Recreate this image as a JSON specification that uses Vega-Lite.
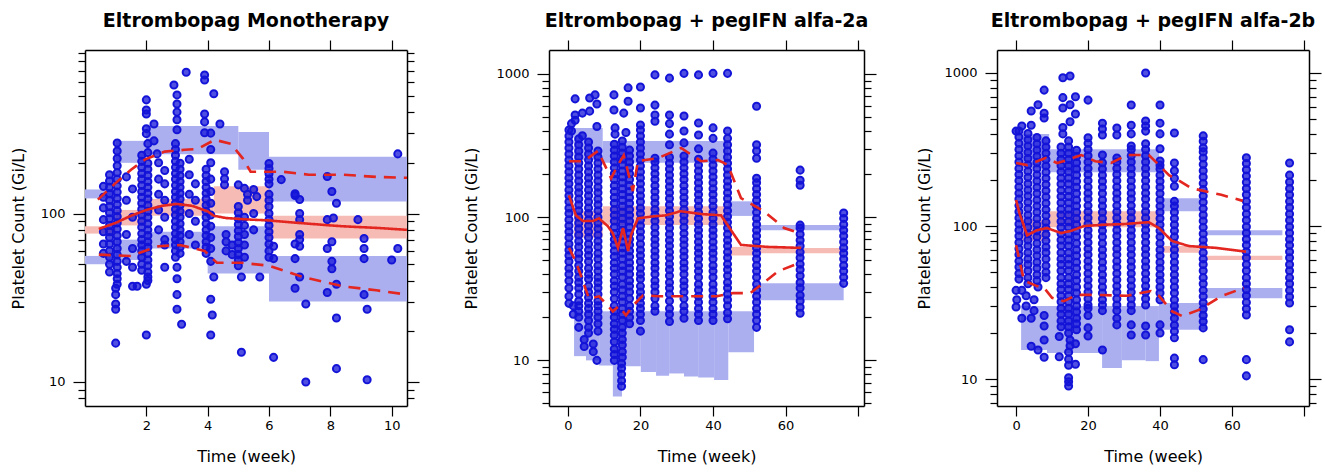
{
"$schema":"https://vega.github.io/schema/vega-lite/v6.json",
"background":"white",
"padding":{"left":10,"top":12,"right":5,"bottom":5},
"spacing":39,
"config":{"view":{"stroke":null},
"axis":{"domainColor":"black","domainWidth":1.5,"tickColor":"black","tickWidth":1.2,"labelColor":"black","labelFont":"DejaVu Sans","labelFontSize":13,"titleFont":"DejaVu Sans","titleFontSize":16,"titleFontWeight":"normal","titleColor":"black","grid":false,"labelFlush":false,"labelOverlap":false,"zindex":1},
"title":{"font":"DejaVu Sans","fontSize":19,"fontWeight":"bold","color":"black","offset":8}},
"datasets":{
"b1":[{"t0":0,"t1":1,"lo":123,"hi":139,"k":"hi"},{"t0":1,"t1":2,"lo":200,"hi":270,"k":"hi"},{"t0":2,"t1":5,"lo":225,"hi":331,"k":"hi"},{"t0":5,"t1":6,"lo":182,"hi":305,"k":"hi"},{"t0":6,"t1":10.5,"lo":118,"hi":217,"k":"hi"},
{"t0":0,"t1":1,"lo":76,"hi":84,"k":"med"},{"t0":1,"t1":2,"lo":85,"hi":105,"k":"med"},{"t0":2,"t1":4.2,"lo":97,"hi":122,"k":"med"},{"t0":4.2,"t1":6,"lo":100,"hi":145,"k":"med"},{"t0":6,"t1":10.5,"lo":71,"hi":97,"k":"med"},
{"t0":0,"t1":1,"lo":50,"hi":56,"k":"lo"},{"t0":1,"t1":2,"lo":53,"hi":70,"k":"lo"},{"t0":2,"t1":4,"lo":62,"hi":78,"k":"lo"},{"t0":4,"t1":6,"lo":44,"hi":84,"k":"lo"},{"t0":6,"t1":10.5,"lo":30,"hi":56,"k":"lo"}],
"b2":[{"t0":1.7,"t1":9.6,"lo":250,"hi":420,"k":"hi"},{"t0":9.6,"t1":44.2,"lo":240,"hi":340,"k":"hi"},{"t0":44.2,"t1":51.3,"lo":102,"hi":129,"k":"hi"},{"t0":52.8,"t1":76,"lo":81,"hi":88,"k":"hi"},
{"t0":1.7,"t1":9.6,"lo":72,"hi":110,"k":"med"},{"t0":9.6,"t1":44.2,"lo":88,"hi":119,"k":"med"},{"t0":44.2,"t1":51.3,"lo":54,"hi":62,"k":"med"},{"t0":52.8,"t1":76,"lo":56,"hi":61,"k":"med"},
{"t0":1.7,"t1":5,"lo":10.7,"hi":22,"k":"lo"},{"t0":5,"t1":8.6,"lo":10,"hi":22,"k":"lo"},{"t0":8.6,"t1":12.4,"lo":9.2,"hi":22,"k":"lo"},{"t0":12.4,"t1":14.9,"lo":5.6,"hi":22,"k":"lo"},{"t0":14.9,"t1":20.1,"lo":9.1,"hi":22,"k":"lo"},{"t0":20.1,"t1":24.3,"lo":8.3,"hi":22,"k":"lo"},{"t0":24.3,"t1":27.9,"lo":7.8,"hi":22,"k":"lo"},{"t0":27.9,"t1":32,"lo":8.1,"hi":22,"k":"lo"},{"t0":32,"t1":35.9,"lo":7.7,"hi":22,"k":"lo"},{"t0":35.9,"t1":40.3,"lo":7.6,"hi":22,"k":"lo"},{"t0":40.3,"t1":44.2,"lo":7.3,"hi":22,"k":"lo"},{"t0":44.2,"t1":51.3,"lo":11.4,"hi":22,"k":"lo"},{"t0":52.8,"t1":76,"lo":26.3,"hi":34.5,"k":"lo"}],
"b3":[{"t0":1.4,"t1":9.2,"lo":240,"hi":400,"k":"hi"},{"t0":9.2,"t1":39.7,"lo":225,"hi":318,"k":"hi"},{"t0":40.5,"t1":51,"lo":125,"hi":152,"k":"hi"},{"t0":53,"t1":74,"lo":87,"hi":94,"k":"hi"},
{"t0":1.4,"t1":9.2,"lo":80,"hi":110,"k":"med"},{"t0":9.2,"t1":39.7,"lo":98,"hi":125,"k":"med"},{"t0":40.5,"t1":51,"lo":67,"hi":74,"k":"med"},{"t0":53,"t1":74,"lo":60,"hi":64,"k":"med"},
{"t0":1.4,"t1":8.6,"lo":15.5,"hi":30,"k":"lo"},{"t0":8.6,"t1":23.9,"lo":14.8,"hi":30,"k":"lo"},{"t0":23.9,"t1":29.4,"lo":11.8,"hi":30,"k":"lo"},{"t0":29.4,"t1":36,"lo":13.3,"hi":30,"k":"lo"},{"t0":36,"t1":39.7,"lo":13.1,"hi":30,"k":"lo"},{"t0":39.7,"t1":52.8,"lo":21,"hi":31.4,"k":"lo"},{"t0":53,"t1":74,"lo":33.8,"hi":39.4,"k":"lo"}],
"l1":[{"q":"med","t":0.45,"v":81},{"q":"med","t":1,"v":88},{"q":"med","t":1.5,"v":97},{"q":"med","t":2,"v":105},{"q":"med","t":2.5,"v":111},{"q":"med","t":3,"v":114},{"q":"med","t":3.5,"v":111},{"q":"med","t":4,"v":103},{"q":"med","t":4.2,"v":97},{"q":"med","t":4.6,"v":94},{"q":"med","t":5,"v":93},{"q":"med","t":5.4,"v":92},{"q":"med","t":6,"v":91},{"q":"med","t":6.6,"v":89},{"q":"med","t":7.3,"v":87},{"q":"med","t":8,"v":85},{"q":"med","t":8.4,"v":84},{"q":"med","t":9,"v":83},{"q":"med","t":9.6,"v":82},{"q":"med","t":10.5,"v":80},
{"q":"p95","t":0.42,"v":121},{"q":"p95","t":0.97,"v":150},{"q":"p95","t":1.5,"v":182},{"q":"p95","t":1.95,"v":209},{"q":"p95","t":2.6,"v":233},{"q":"p95","t":3.25,"v":239},{"q":"p95","t":3.68,"v":242},{"q":"p95","t":4.23,"v":274},{"q":"p95","t":4.76,"v":259},{"q":"p95","t":5.15,"v":212},{"q":"p95","t":5.4,"v":177},{"q":"p95","t":6.45,"v":177},{"q":"p95","t":7.3,"v":170},{"q":"p95","t":8.4,"v":170},{"q":"p95","t":9.5,"v":165},{"q":"p95","t":10.5,"v":163},
{"q":"p5","t":0.45,"v":57},{"q":"p5","t":1.5,"v":56},{"q":"p5","t":2.4,"v":64},{"q":"p5","t":3.1,"v":65},{"q":"p5","t":3.9,"v":60},{"q":"p5","t":4.3,"v":51},{"q":"p5","t":5.1,"v":51},{"q":"p5","t":6,"v":49},{"q":"p5","t":7.1,"v":42},{"q":"p5","t":8.4,"v":37},{"q":"p5","t":9.5,"v":35},{"q":"p5","t":10.5,"v":33}],
"l2":[{"q":"med","t":0.3,"v":142},{"q":"med","t":2.2,"v":103},{"q":"med","t":4.1,"v":94},{"q":"med","t":6.9,"v":94},{"q":"med","t":8.6,"v":98},{"q":"med","t":11,"v":86.5},{"q":"med","t":12.4,"v":77},{"q":"med","t":13.8,"v":61},{"q":"med","t":15.2,"v":84},{"q":"med","t":16.6,"v":58},{"q":"med","t":17.4,"v":75},{"q":"med","t":19.3,"v":98},{"q":"med","t":23,"v":101},{"q":"med","t":27,"v":103},{"q":"med","t":31,"v":110},{"q":"med","t":37,"v":105},{"q":"med","t":42.2,"v":103},{"q":"med","t":47.7,"v":64},{"q":"med","t":55,"v":62},{"q":"med","t":64.3,"v":61},
{"q":"p95","t":0.3,"v":246},{"q":"p95","t":4.4,"v":246},{"q":"p95","t":8.3,"v":290},{"q":"p95","t":11.9,"v":187},{"q":"p95","t":13.8,"v":231},{"q":"p95","t":15.4,"v":270},{"q":"p95","t":17.9,"v":152},{"q":"p95","t":19.3,"v":246},{"q":"p95","t":24.8,"v":258},{"q":"p95","t":31.2,"v":304},{"q":"p95","t":36.7,"v":246},{"q":"p95","t":41.4,"v":250},{"q":"p95","t":44.1,"v":231},{"q":"p95","t":47.7,"v":136},{"q":"p95","t":54,"v":110},{"q":"p95","t":59.6,"v":84},{"q":"p95","t":64,"v":77},
{"q":"p5","t":0.3,"v":61},{"q":"p5","t":2.2,"v":49},{"q":"p5","t":4.1,"v":36},{"q":"p5","t":5.8,"v":27},{"q":"p5","t":8.6,"v":28},{"q":"p5","t":12.4,"v":22},{"q":"p5","t":14.1,"v":24},{"q":"p5","t":16,"v":20.6},{"q":"p5","t":17.9,"v":24},{"q":"p5","t":20.7,"v":28.5},{"q":"p5","t":25,"v":28},{"q":"p5","t":30,"v":28},{"q":"p5","t":36,"v":28},{"q":"p5","t":41,"v":28},{"q":"p5","t":45.5,"v":29.5},{"q":"p5","t":50.3,"v":29.5},{"q":"p5","t":53.1,"v":33.5},{"q":"p5","t":58,"v":42},{"q":"p5","t":64,"v":48}],
"l3":[{"q":"med","t":0,"v":148},{"q":"med","t":1,"v":120},{"q":"med","t":3.1,"v":87},{"q":"med","t":5.8,"v":94},{"q":"med","t":8.6,"v":97},{"q":"med","t":12.5,"v":90},{"q":"med","t":15.3,"v":93},{"q":"med","t":18.9,"v":100},{"q":"med","t":24.4,"v":102},{"q":"med","t":30,"v":103},{"q":"med","t":36.9,"v":106},{"q":"med","t":39.7,"v":97},{"q":"med","t":43.3,"v":80},{"q":"med","t":48,"v":74},{"q":"med","t":55.5,"v":72},{"q":"med","t":63.9,"v":68},
{"q":"p95","t":0,"v":258},{"q":"p95","t":3.1,"v":250},{"q":"p95","t":8.3,"v":279},{"q":"p95","t":11.4,"v":258},{"q":"p95","t":14.2,"v":270},{"q":"p95","t":18.1,"v":291},{"q":"p95","t":22,"v":265},{"q":"p95","t":26.4,"v":258},{"q":"p95","t":30.8,"v":291},{"q":"p95","t":36.9,"v":291},{"q":"p95","t":42.5,"v":215},{"q":"p95","t":45,"v":200},{"q":"p95","t":48.6,"v":177},{"q":"p95","t":57,"v":160},{"q":"p95","t":63,"v":146},
{"q":"p5","t":0,"v":75},{"q":"p5","t":2.2,"v":44},{"q":"p5","t":5.8,"v":40.5},{"q":"p5","t":7.8,"v":39.4},{"q":"p5","t":10,"v":34},{"q":"p5","t":13.3,"v":32.3},{"q":"p5","t":16.9,"v":35.5},{"q":"p5","t":22,"v":35.5},{"q":"p5","t":30.8,"v":35},{"q":"p5","t":37.5,"v":37.6},{"q":"p5","t":39.7,"v":35},{"q":"p5","t":43.3,"v":27.8},{"q":"p5","t":46.1,"v":25.8},{"q":"p5","t":50.8,"v":28.3},{"q":"p5","t":57.2,"v":35},{"q":"p5","t":63.3,"v":39.4}],
"p1":[{"t":0.6,"v":58},{"t":0.6,"v":66},{"t":0.6,"v":78},{"t":0.6,"v":92},{"t":0.6,"v":108},{"t":0.6,"v":125},{"t":0.6,"v":145},
{"t":0.8,"v":45},{"t":0.8,"v":50},{"t":0.8,"v":55},{"t":0.8,"v":60},{"t":0.8,"v":66},{"t":0.8,"v":72},{"t":0.8,"v":78},{"t":0.8,"v":85},{"t":0.8,"v":93},{"t":0.8,"v":101},{"t":0.8,"v":110},{"t":0.8,"v":120},{"t":0.8,"v":131},{"t":0.8,"v":143},{"t":0.8,"v":156},{"t":0.8,"v":170},
{"t":1.05,"v":38},{"t":1.05,"v":41},{"t":1.05,"v":44},{"t":1.05,"v":48},{"t":1.05,"v":52},{"t":1.05,"v":57},{"t":1.05,"v":62},{"t":1.05,"v":68},{"t":1.05,"v":74},{"t":1.05,"v":81},{"t":1.05,"v":88},{"t":1.05,"v":96},{"t":1.05,"v":104},{"t":1.05,"v":113},{"t":1.05,"v":123},{"t":1.05,"v":134},{"t":1.05,"v":146},{"t":1.05,"v":160},{"t":1.05,"v":175},{"t":1.05,"v":192},{"t":1.05,"v":212},{"t":1.05,"v":235},{"t":1.05,"v":262},
{"t":1.0,"v":36},{"t":1.0,"v":33},{"t":1.0,"v":29},{"t":1.0,"v":27},{"t":1.0,"v":17},
{"t":1.35,"v":52},{"t":1.35,"v":75},{"t":1.35,"v":120},{"t":1.35,"v":165},
{"t":1.55,"v":37},{"t":1.55,"v":48},{"t":1.55,"v":62},{"t":1.55,"v":95},{"t":1.55,"v":140},{"t":1.7,"v":37},
{"t":1.85,"v":46},{"t":1.85,"v":50},{"t":1.85,"v":55},{"t":1.85,"v":60},{"t":1.85,"v":65},{"t":1.85,"v":70},{"t":1.85,"v":76},{"t":1.85,"v":83},{"t":1.85,"v":90},{"t":1.85,"v":98},{"t":1.85,"v":106},{"t":1.85,"v":115},{"t":1.85,"v":125},{"t":1.85,"v":135},{"t":1.85,"v":147},{"t":1.85,"v":160},{"t":1.85,"v":173},{"t":1.85,"v":188},{"t":1.85,"v":204},{"t":1.85,"v":222},
{"t":2.05,"v":40},{"t":2.05,"v":42},{"t":2.05,"v":45},{"t":2.05,"v":49},{"t":2.05,"v":53},{"t":2.05,"v":58},{"t":2.05,"v":63},{"t":2.05,"v":68},{"t":2.05,"v":74},{"t":2.05,"v":80},{"t":2.05,"v":87},{"t":2.05,"v":95},{"t":2.05,"v":103},{"t":2.05,"v":112},{"t":2.05,"v":122},{"t":2.05,"v":132},{"t":2.05,"v":143},{"t":2.05,"v":155},{"t":2.05,"v":168},{"t":2.05,"v":183},{"t":2.05,"v":199},{"t":2.05,"v":230},{"t":2.05,"v":260},
{"t":2.0,"v":473},{"t":2.0,"v":412},{"t":2.0,"v":390},{"t":2.0,"v":319},{"t":2.0,"v":298},{"t":2.0,"v":38},{"t":2.0,"v":19},{"t":2.25,"v":340},{"t":2.25,"v":270},{"t":2.35,"v":226},
{"t":2.4,"v":80},{"t":2.4,"v":105},{"t":2.4,"v":130},{"t":2.4,"v":160},{"t":2.4,"v":200},
{"t":2.6,"v":48},{"t":2.6,"v":65},{"t":2.6,"v":70},{"t":2.6,"v":95},{"t":2.6,"v":120},{"t":2.6,"v":150},{"t":2.6,"v":180},
{"t":2.95,"v":55},{"t":2.95,"v":60},{"t":2.95,"v":65},{"t":2.95,"v":70},{"t":2.95,"v":76},{"t":2.95,"v":83},{"t":2.95,"v":90},{"t":2.95,"v":98},{"t":2.95,"v":106},{"t":2.95,"v":115},{"t":2.95,"v":125},{"t":2.95,"v":135},{"t":2.95,"v":147},{"t":2.95,"v":160},{"t":2.95,"v":173},{"t":2.95,"v":188},{"t":2.95,"v":204},{"t":2.95,"v":222},{"t":2.95,"v":240},{"t":2.95,"v":260},
{"t":3.1,"v":58},{"t":3.1,"v":63},{"t":3.1,"v":68},{"t":3.1,"v":74},{"t":3.1,"v":80},{"t":3.1,"v":87},{"t":3.1,"v":95},{"t":3.1,"v":103},{"t":3.1,"v":112},{"t":3.1,"v":122},{"t":3.1,"v":132},{"t":3.1,"v":143},{"t":3.1,"v":155},{"t":3.1,"v":168},{"t":3.1,"v":183},{"t":3.1,"v":199},
{"t":2.9,"v":580},{"t":3.0,"v":506},{"t":3.0,"v":447},{"t":3.0,"v":400},{"t":3.0,"v":360},{"t":3.0,"v":314},{"t":3.0,"v":48},{"t":3.0,"v":41},{"t":3.0,"v":33},{"t":3.0,"v":27},{"t":3.15,"v":22},{"t":3.3,"v":690},
{"t":3.4,"v":75},{"t":3.4,"v":100},{"t":3.4,"v":130},{"t":3.4,"v":170},{"t":3.4,"v":210},{"t":3.6,"v":65},{"t":3.6,"v":90},{"t":3.6,"v":120},{"t":3.6,"v":150},
{"t":3.95,"v":58},{"t":3.95,"v":63},{"t":3.95,"v":68},{"t":3.95,"v":74},{"t":3.95,"v":80},{"t":3.95,"v":87},{"t":3.95,"v":95},{"t":3.95,"v":103},{"t":3.95,"v":112},{"t":3.95,"v":122},{"t":3.95,"v":132},{"t":3.95,"v":143},{"t":3.95,"v":155},{"t":3.95,"v":168},{"t":3.95,"v":183},
{"t":4.1,"v":52},{"t":4.1,"v":62},{"t":4.1,"v":72},{"t":4.1,"v":84},{"t":4.1,"v":98},{"t":4.1,"v":115},{"t":4.1,"v":135},{"t":4.1,"v":160},{"t":4.1,"v":200},{"t":4.1,"v":240},{"t":4.1,"v":300},{"t":4.1,"v":31},{"t":4.1,"v":19},
{"t":3.9,"v":665},{"t":3.9,"v":620},{"t":3.9,"v":390},{"t":3.9,"v":350},{"t":3.9,"v":302},{"t":4.2,"v":514},{"t":4.2,"v":42},{"t":4.4,"v":340},{"t":4.15,"v":25},
{"t":4.55,"v":177},{"t":4.55,"v":161},{"t":4.55,"v":148},{"t":4.6,"v":75},{"t":4.6,"v":68},{"t":4.6,"v":60},{"t":4.8,"v":57},{"t":4.8,"v":65},
{"t":5.0,"v":49},{"t":5.0,"v":53},{"t":5.0,"v":57},{"t":5.0,"v":62},{"t":5.0,"v":67},{"t":5.0,"v":73},{"t":5.0,"v":79},{"t":5.0,"v":86},{"t":5.0,"v":93},{"t":5.0,"v":101},{"t":5.0,"v":110},{"t":5.0,"v":148},
{"t":5.2,"v":55},{"t":5.2,"v":65},{"t":5.2,"v":75},{"t":5.2,"v":85},{"t":5.2,"v":95},{"t":5.2,"v":141},{"t":5.3,"v":120},{"t":5.3,"v":130},{"t":5.5,"v":80},{"t":5.5,"v":100},{"t":5.5,"v":139},{"t":5.6,"v":126},{"t":5.1,"v":42},{"t":5.1,"v":15},{"t":5.7,"v":42},
{"t":6.0,"v":55},{"t":6.0,"v":60},{"t":6.0,"v":66},{"t":6.0,"v":72},{"t":6.0,"v":78},{"t":6.0,"v":85},{"t":6.0,"v":92},{"t":6.0,"v":100},{"t":6.0,"v":110},{"t":6.0,"v":120},{"t":6.0,"v":130},{"t":6.0,"v":150},{"t":6.0,"v":160},{"t":6.0,"v":172},{"t":6.0,"v":185},{"t":6.0,"v":198},
{"t":6.15,"v":64},{"t":6.15,"v":54},{"t":6.15,"v":14},{"t":6.4,"v":159},
{"t":6.85,"v":131},{"t":6.85,"v":128},{"t":6.85,"v":66},{"t":6.85,"v":54},{"t":6.85,"v":36},
{"t":7.0,"v":121},{"t":7.0,"v":100},{"t":7.0,"v":92},{"t":7.0,"v":75},{"t":7.0,"v":70},{"t":7.0,"v":64},{"t":7.0,"v":42},{"t":7.2,"v":29},{"t":7.2,"v":10},
{"t":7.9,"v":166},{"t":7.9,"v":92},{"t":7.9,"v":62},{"t":7.9,"v":34},{"t":8.05,"v":135},{"t":8.05,"v":68},{"t":8.05,"v":52},{"t":8.05,"v":47},{"t":8.2,"v":115},{"t":8.2,"v":38},{"t":8.2,"v":24},{"t":8.2,"v":12},{"t":8.1,"v":94},
{"t":8.9,"v":92},{"t":9.1,"v":71},{"t":9.1,"v":62},{"t":9.1,"v":54},{"t":9.1,"v":33},{"t":9.2,"v":27},{"t":9.2,"v":10.3},
{"t":10.0,"v":53},{"t":10.2,"v":226},{"t":10.2,"v":62}],
"p2":[{"t":0.3,"v":25},{"t":0.3,"v":28},{"t":0.3,"v":32},{"t":0.3,"v":36},{"t":0.3,"v":40},{"t":0.3,"v":44},{"t":0.3,"v":49},{"t":0.3,"v":54},{"t":0.3,"v":59},{"t":0.3,"v":65},{"t":0.3,"v":72},{"t":0.3,"v":79},{"t":0.3,"v":87},{"t":0.3,"v":96},{"t":0.3,"v":106},{"t":0.3,"v":116},{"t":0.3,"v":128},{"t":0.3,"v":141},{"t":0.3,"v":155},{"t":0.3,"v":171},{"t":0.3,"v":188},{"t":0.3,"v":207},{"t":0.3,"v":228},{"t":0.3,"v":251},{"t":0.3,"v":276},{"t":0.3,"v":304},{"t":0.3,"v":335},{"t":0.3,"v":369},{"t":0.3,"v":406},
{"t":3,"v":17},{"t":3,"v":20},{"t":3,"v":22},{"t":3,"v":24},{"t":3,"v":26},{"t":3,"v":29},{"t":3,"v":32},{"t":3,"v":35},{"t":3,"v":38},{"t":3,"v":42},{"t":3,"v":46},{"t":3,"v":51},{"t":3,"v":56},{"t":3,"v":62},{"t":3,"v":68},{"t":3,"v":75},{"t":3,"v":83},{"t":3,"v":91},{"t":3,"v":100},{"t":3,"v":111},{"t":3,"v":122},{"t":3,"v":134},{"t":3,"v":148},{"t":3,"v":162},{"t":3,"v":179},{"t":3,"v":197},{"t":3,"v":217},{"t":3,"v":239},{"t":3,"v":263},{"t":3,"v":290},{"t":3,"v":320},{"t":3,"v":352},
{"t":5.7,"v":15.5},{"t":5.7,"v":17},{"t":5.7,"v":19},{"t":5.7,"v":21},{"t":5.7,"v":23},{"t":5.7,"v":25},{"t":5.7,"v":27.5},{"t":5.7,"v":30},{"t":5.7,"v":33},{"t":5.7,"v":37},{"t":5.7,"v":40},{"t":5.7,"v":44},{"t":5.7,"v":49},{"t":5.7,"v":54},{"t":5.7,"v":59},{"t":5.7,"v":65},{"t":5.7,"v":72},{"t":5.7,"v":79},{"t":5.7,"v":87},{"t":5.7,"v":96},{"t":5.7,"v":106},{"t":5.7,"v":116},{"t":5.7,"v":128},{"t":5.7,"v":141},{"t":5.7,"v":155},{"t":5.7,"v":171},{"t":5.7,"v":188},{"t":5.7,"v":207},{"t":5.7,"v":228},{"t":5.7,"v":251},{"t":5.7,"v":276},{"t":5.7,"v":304},{"t":5.7,"v":335},
{"t":8.3,"v":16},{"t":8.3,"v":18},{"t":8.3,"v":20},{"t":8.3,"v":22},{"t":8.3,"v":24},{"t":8.3,"v":26},{"t":8.3,"v":29},{"t":8.3,"v":32},{"t":8.3,"v":35},{"t":8.3,"v":38},{"t":8.3,"v":42},{"t":8.3,"v":46},{"t":8.3,"v":51},{"t":8.3,"v":56},{"t":8.3,"v":62},{"t":8.3,"v":68},{"t":8.3,"v":75},{"t":8.3,"v":83},{"t":8.3,"v":91},{"t":8.3,"v":100},{"t":8.3,"v":111},{"t":8.3,"v":122},{"t":8.3,"v":134},{"t":8.3,"v":148},{"t":8.3,"v":162},{"t":8.3,"v":179},{"t":8.3,"v":197},{"t":8.3,"v":217},{"t":8.3,"v":239},{"t":8.3,"v":263},{"t":8.3,"v":290},
{"t":2,"v":670},{"t":2,"v":517},{"t":2,"v":475},{"t":4,"v":533},{"t":4,"v":370},{"t":6,"v":680},{"t":6,"v":550},{"t":7.5,"v":714},{"t":8,"v":617},{"t":8,"v":430},{"t":1,"v":400},{"t":1,"v":450},{"t":4.5,"v":12.5},{"t":4.5,"v":14},{"t":7,"v":11.5},{"t":7,"v":13},{"t":8,"v":10},{"t":1.5,"v":21},{"t":1.5,"v":24},
{"t":12.8,"v":10},{"t":12.8,"v":11},{"t":12.8,"v":12},{"t":12.8,"v":13.5},{"t":12.8,"v":15},{"t":12.8,"v":16.5},{"t":12.8,"v":18},{"t":12.8,"v":20},{"t":12.8,"v":22},{"t":12.8,"v":24},{"t":12.8,"v":27},{"t":12.8,"v":30},{"t":12.8,"v":33},{"t":12.8,"v":36},{"t":12.8,"v":40},{"t":12.8,"v":44},{"t":12.8,"v":48},{"t":12.8,"v":53},{"t":12.8,"v":58},{"t":12.8,"v":64},{"t":12.8,"v":70},{"t":12.8,"v":77},{"t":12.8,"v":85},{"t":12.8,"v":94},{"t":12.8,"v":103},{"t":12.8,"v":113},{"t":12.8,"v":125},{"t":12.8,"v":137},{"t":12.8,"v":151},{"t":12.8,"v":166},{"t":12.8,"v":183},{"t":12.8,"v":201},{"t":12.8,"v":221},{"t":12.8,"v":243},{"t":12.8,"v":267},{"t":12.8,"v":294},{"t":12.8,"v":323},
{"t":15,"v":10.5},{"t":15,"v":11.5},{"t":15,"v":12.8},{"t":15,"v":14},{"t":15,"v":15.5},{"t":15,"v":17},{"t":15,"v":19},{"t":15,"v":21},{"t":15,"v":23},{"t":15,"v":25.5},{"t":15,"v":28},{"t":15,"v":31},{"t":15,"v":34},{"t":15,"v":38},{"t":15,"v":42},{"t":15,"v":46},{"t":15,"v":51},{"t":15,"v":56},{"t":15,"v":61},{"t":15,"v":67},{"t":15,"v":74},{"t":15,"v":81},{"t":15,"v":89},{"t":15,"v":98},{"t":15,"v":108},{"t":15,"v":119},{"t":15,"v":131},{"t":15,"v":144},{"t":15,"v":158},{"t":15,"v":174},{"t":15,"v":191},{"t":15,"v":210},{"t":15,"v":231},{"t":15,"v":254},{"t":15,"v":280},{"t":15,"v":308},{"t":15,"v":340},
{"t":14.8,"v":6.6},{"t":14.8,"v":7.2},{"t":14.8,"v":8},{"t":14.8,"v":8.8},{"t":14.8,"v":9.5},
{"t":17,"v":18},{"t":17,"v":20},{"t":17,"v":22},{"t":17,"v":24},{"t":17,"v":27},{"t":17,"v":30},{"t":17,"v":33},{"t":17,"v":36},{"t":17,"v":40},{"t":17,"v":44},{"t":17,"v":48},{"t":17,"v":53},{"t":17,"v":58},{"t":17,"v":64},{"t":17,"v":70},{"t":17,"v":77},{"t":17,"v":85},{"t":17,"v":94},{"t":17,"v":103},{"t":17,"v":113},{"t":17,"v":125},{"t":17,"v":137},{"t":17,"v":151},{"t":17,"v":166},{"t":17,"v":183},{"t":17,"v":201},{"t":17,"v":221},{"t":17,"v":243},{"t":17,"v":267},{"t":17,"v":294},
{"t":12.7,"v":714},{"t":12.7,"v":560},{"t":16.6,"v":800},{"t":16.6,"v":645},{"t":15.4,"v":533},{"t":13,"v":380},{"t":13,"v":420},{"t":16,"v":390},
{"t":20,"v":16},{"t":20,"v":19},{"t":20,"v":21},{"t":20,"v":23},{"t":20,"v":25},{"t":20,"v":27.5},{"t":20,"v":30},{"t":20,"v":33},{"t":20,"v":37},{"t":20,"v":40},{"t":20,"v":44},{"t":20,"v":49},{"t":20,"v":54},{"t":20,"v":59},{"t":20,"v":65},{"t":20,"v":72},{"t":20,"v":79},{"t":20,"v":87},{"t":20,"v":96},{"t":20,"v":106},{"t":20,"v":116},{"t":20,"v":128},{"t":20,"v":141},{"t":20,"v":155},{"t":20,"v":171},{"t":20,"v":188},{"t":20,"v":207},{"t":20,"v":228},{"t":20,"v":251},{"t":20,"v":276},{"t":20,"v":304},{"t":20,"v":335},{"t":20,"v":369},{"t":20,"v":406},{"t":20,"v":440},{"t":20,"v":578},{"t":20,"v":810},
{"t":24,"v":22},{"t":24,"v":24},{"t":24,"v":27},{"t":24,"v":30},{"t":24,"v":33},{"t":24,"v":36},{"t":24,"v":40},{"t":24,"v":44},{"t":24,"v":48},{"t":24,"v":53},{"t":24,"v":58},{"t":24,"v":64},{"t":24,"v":70},{"t":24,"v":77},{"t":24,"v":85},{"t":24,"v":94},{"t":24,"v":103},{"t":24,"v":113},{"t":24,"v":125},{"t":24,"v":137},{"t":24,"v":151},{"t":24,"v":166},{"t":24,"v":183},{"t":24,"v":201},{"t":24,"v":221},{"t":24,"v":243},{"t":24,"v":258},{"t":24,"v":468},{"t":24,"v":517},{"t":24,"v":606},{"t":24,"v":985},
{"t":28,"v":18.7},{"t":28,"v":21},{"t":28,"v":23},{"t":28,"v":26},{"t":28,"v":29},{"t":28,"v":32},{"t":28,"v":35},{"t":28,"v":39},{"t":28,"v":43},{"t":28,"v":47},{"t":28,"v":52},{"t":28,"v":57},{"t":28,"v":63},{"t":28,"v":69},{"t":28,"v":76},{"t":28,"v":84},{"t":28,"v":92},{"t":28,"v":101},{"t":28,"v":111},{"t":28,"v":122},{"t":28,"v":135},{"t":28,"v":148},{"t":28,"v":163},{"t":28,"v":179},{"t":28,"v":197},{"t":28,"v":217},{"t":28,"v":238},{"t":28,"v":262},{"t":28,"v":320},{"t":28,"v":380},{"t":28,"v":450},{"t":28,"v":517},{"t":28,"v":935},
{"t":32,"v":19.7},{"t":32,"v":22},{"t":32,"v":24},{"t":32,"v":27},{"t":32,"v":30},{"t":32,"v":33},{"t":32,"v":36},{"t":32,"v":40},{"t":32,"v":44},{"t":32,"v":48},{"t":32,"v":53},{"t":32,"v":58},{"t":32,"v":64},{"t":32,"v":70},{"t":32,"v":77},{"t":32,"v":85},{"t":32,"v":94},{"t":32,"v":103},{"t":32,"v":113},{"t":32,"v":125},{"t":32,"v":137},{"t":32,"v":151},{"t":32,"v":166},{"t":32,"v":183},{"t":32,"v":201},{"t":32,"v":221},{"t":32,"v":243},{"t":32,"v":267},{"t":32,"v":330},{"t":32,"v":400},{"t":32,"v":508},{"t":32,"v":1010},
{"t":36,"v":19},{"t":36,"v":21},{"t":36,"v":23},{"t":36,"v":25.5},{"t":36,"v":28},{"t":36,"v":31},{"t":36,"v":34},{"t":36,"v":38},{"t":36,"v":42},{"t":36,"v":46},{"t":36,"v":51},{"t":36,"v":56},{"t":36,"v":61},{"t":36,"v":67},{"t":36,"v":74},{"t":36,"v":81},{"t":36,"v":89},{"t":36,"v":98},{"t":36,"v":108},{"t":36,"v":119},{"t":36,"v":131},{"t":36,"v":144},{"t":36,"v":158},{"t":36,"v":174},{"t":36,"v":191},{"t":36,"v":210},{"t":36,"v":231},{"t":36,"v":254},{"t":36,"v":300},{"t":36,"v":375},{"t":36,"v":455},{"t":36,"v":985},
{"t":40,"v":19},{"t":40,"v":21},{"t":40,"v":23},{"t":40,"v":25.5},{"t":40,"v":28},{"t":40,"v":31},{"t":40,"v":34},{"t":40,"v":38},{"t":40,"v":42},{"t":40,"v":46},{"t":40,"v":51},{"t":40,"v":56},{"t":40,"v":61},{"t":40,"v":67},{"t":40,"v":74},{"t":40,"v":81},{"t":40,"v":89},{"t":40,"v":98},{"t":40,"v":108},{"t":40,"v":119},{"t":40,"v":131},{"t":40,"v":144},{"t":40,"v":158},{"t":40,"v":174},{"t":40,"v":191},{"t":40,"v":210},{"t":40,"v":231},{"t":40,"v":254},{"t":40,"v":280},{"t":40,"v":355},{"t":40,"v":420},{"t":40,"v":1010},
{"t":44,"v":19.5},{"t":44,"v":21.5},{"t":44,"v":24},{"t":44,"v":26.5},{"t":44,"v":29},{"t":44,"v":32},{"t":44,"v":35},{"t":44,"v":39},{"t":44,"v":43},{"t":44,"v":47},{"t":44,"v":52},{"t":44,"v":57},{"t":44,"v":63},{"t":44,"v":69},{"t":44,"v":76},{"t":44,"v":84},{"t":44,"v":92},{"t":44,"v":101},{"t":44,"v":111},{"t":44,"v":122},{"t":44,"v":135},{"t":44,"v":148},{"t":44,"v":163},{"t":44,"v":179},{"t":44,"v":197},{"t":44,"v":217},{"t":44,"v":238},{"t":44,"v":262},{"t":44,"v":290},{"t":44,"v":320},{"t":44,"v":355},{"t":44,"v":400},{"t":44,"v":1010},
{"t":52,"v":17},{"t":52,"v":19},{"t":52,"v":21},{"t":52,"v":23},{"t":52,"v":25.5},{"t":52,"v":28},{"t":52,"v":31},{"t":52,"v":34},{"t":52,"v":38},{"t":52,"v":42},{"t":52,"v":46},{"t":52,"v":51},{"t":52,"v":56},{"t":52,"v":61},{"t":52,"v":67},{"t":52,"v":74},{"t":52,"v":81},{"t":52,"v":89},{"t":52,"v":98},{"t":52,"v":108},{"t":52,"v":119},{"t":52,"v":131},{"t":52,"v":144},{"t":52,"v":158},{"t":52,"v":174},{"t":52,"v":187},{"t":52,"v":258},{"t":52,"v":290},{"t":52,"v":320},{"t":52,"v":595},
{"t":64,"v":21.3},{"t":64,"v":23.5},{"t":64,"v":26},{"t":64,"v":28.5},{"t":64,"v":32},{"t":64,"v":35},{"t":64,"v":39},{"t":64,"v":43},{"t":64,"v":47},{"t":64,"v":52},{"t":64,"v":57},{"t":64,"v":63},{"t":64,"v":69},{"t":64,"v":76},{"t":64,"v":84},{"t":64,"v":88},{"t":64,"v":167},{"t":64,"v":181},{"t":64,"v":213},
{"t":76,"v":34.5},{"t":76,"v":38},{"t":76,"v":42},{"t":76,"v":46},{"t":76,"v":51},{"t":76,"v":56},{"t":76,"v":61},{"t":76,"v":67},{"t":76,"v":74},{"t":76,"v":81},{"t":76,"v":89},{"t":76,"v":98},{"t":76,"v":107}],
"p3":[{"t":0.8,"v":45},{"t":0.8,"v":49},{"t":0.8,"v":54},{"t":0.8,"v":59},{"t":0.8,"v":65},{"t":0.8,"v":71},{"t":0.8,"v":78},{"t":0.8,"v":86},{"t":0.8,"v":94},{"t":0.8,"v":103},{"t":0.8,"v":113},{"t":0.8,"v":124},{"t":0.8,"v":136},{"t":0.8,"v":150},{"t":0.8,"v":164},{"t":0.8,"v":180},{"t":0.8,"v":198},{"t":0.8,"v":217},{"t":0.8,"v":238},{"t":0.8,"v":262},{"t":0.8,"v":288},{"t":0.8,"v":316},{"t":0.8,"v":347},{"t":0.8,"v":381},{"t":0.8,"v":418},
{"t":3.3,"v":42},{"t":3.3,"v":46},{"t":3.3,"v":51},{"t":3.3,"v":56},{"t":3.3,"v":61},{"t":3.3,"v":67},{"t":3.3,"v":74},{"t":3.3,"v":81},{"t":3.3,"v":89},{"t":3.3,"v":98},{"t":3.3,"v":108},{"t":3.3,"v":118},{"t":3.3,"v":130},{"t":3.3,"v":143},{"t":3.3,"v":157},{"t":3.3,"v":172},{"t":3.3,"v":189},{"t":3.3,"v":208},{"t":3.3,"v":228},{"t":3.3,"v":251},{"t":3.3,"v":276},{"t":3.3,"v":303},{"t":3.3,"v":333},{"t":3.3,"v":366},{"t":3.3,"v":402},
{"t":5.8,"v":44},{"t":5.8,"v":48},{"t":5.8,"v":53},{"t":5.8,"v":58},{"t":5.8,"v":64},{"t":5.8,"v":70},{"t":5.8,"v":77},{"t":5.8,"v":85},{"t":5.8,"v":93},{"t":5.8,"v":102},{"t":5.8,"v":112},{"t":5.8,"v":123},{"t":5.8,"v":135},{"t":5.8,"v":148},{"t":5.8,"v":163},{"t":5.8,"v":179},{"t":5.8,"v":197},{"t":5.8,"v":216},{"t":5.8,"v":237},{"t":5.8,"v":260},{"t":5.8,"v":286},{"t":5.8,"v":314},{"t":5.8,"v":345},{"t":5.8,"v":379},
{"t":8.3,"v":46},{"t":8.3,"v":50},{"t":8.3,"v":55},{"t":8.3,"v":61},{"t":8.3,"v":67},{"t":8.3,"v":73},{"t":8.3,"v":80},{"t":8.3,"v":88},{"t":8.3,"v":97},{"t":8.3,"v":106},{"t":8.3,"v":117},{"t":8.3,"v":128},{"t":8.3,"v":141},{"t":8.3,"v":155},{"t":8.3,"v":170},{"t":8.3,"v":187},{"t":8.3,"v":205},{"t":8.3,"v":225},{"t":8.3,"v":247},{"t":8.3,"v":272},{"t":8.3,"v":299},{"t":8.3,"v":328},{"t":8.3,"v":360},
{"t":0,"v":417},{"t":0,"v":29.6},{"t":0,"v":38},{"t":0.2,"v":33},{"t":1.6,"v":450},{"t":1.6,"v":38},{"t":1.6,"v":25},{"t":2.8,"v":35},{"t":2.8,"v":30},{"t":4.2,"v":456},{"t":4.2,"v":565},{"t":4.2,"v":25},{"t":4.2,"v":16.4},{"t":6.1,"v":620},{"t":6.1,"v":15.5},{"t":6.1,"v":40},{"t":7.8,"v":773},{"t":7.8,"v":545},{"t":7.8,"v":508},{"t":7.8,"v":13.9},{"t":7.8,"v":18},{"t":7.8,"v":22.2},{"t":7.8,"v":26},{"t":5,"v":33},{"t":5,"v":28},
{"t":12.5,"v":22},{"t":12.5,"v":24},{"t":12.5,"v":26.5},{"t":12.5,"v":29},{"t":12.5,"v":32},{"t":12.5,"v":35},{"t":12.5,"v":38.5},{"t":12.5,"v":42},{"t":12.5,"v":46},{"t":12.5,"v":51},{"t":12.5,"v":56},{"t":12.5,"v":61},{"t":12.5,"v":67},{"t":12.5,"v":74},{"t":12.5,"v":81},{"t":12.5,"v":89},{"t":12.5,"v":98},{"t":12.5,"v":107},{"t":12.5,"v":118},{"t":12.5,"v":129},{"t":12.5,"v":142},{"t":12.5,"v":156},{"t":12.5,"v":171},{"t":12.5,"v":188},{"t":12.5,"v":206},{"t":12.5,"v":226},{"t":12.5,"v":248},{"t":12.5,"v":272},{"t":12.5,"v":299},{"t":12.5,"v":328},
{"t":14.6,"v":20},{"t":14.6,"v":22},{"t":14.6,"v":24},{"t":14.6,"v":26.5},{"t":14.6,"v":29},{"t":14.6,"v":32},{"t":14.6,"v":35},{"t":14.6,"v":38.5},{"t":14.6,"v":42},{"t":14.6,"v":46},{"t":14.6,"v":51},{"t":14.6,"v":56},{"t":14.6,"v":61},{"t":14.6,"v":67},{"t":14.6,"v":74},{"t":14.6,"v":81},{"t":14.6,"v":89},{"t":14.6,"v":98},{"t":14.6,"v":107},{"t":14.6,"v":118},{"t":14.6,"v":129},{"t":14.6,"v":142},{"t":14.6,"v":156},{"t":14.6,"v":171},{"t":14.6,"v":188},{"t":14.6,"v":206},{"t":14.6,"v":226},{"t":14.6,"v":248},{"t":14.6,"v":272},{"t":14.6,"v":299},{"t":14.6,"v":328},{"t":14.6,"v":360},
{"t":16.8,"v":21},{"t":16.8,"v":23},{"t":16.8,"v":25},{"t":16.8,"v":27.5},{"t":16.8,"v":30},{"t":16.8,"v":33},{"t":16.8,"v":36.5},{"t":16.8,"v":40},{"t":16.8,"v":44},{"t":16.8,"v":48},{"t":16.8,"v":53},{"t":16.8,"v":58},{"t":16.8,"v":64},{"t":16.8,"v":70},{"t":16.8,"v":77},{"t":16.8,"v":85},{"t":16.8,"v":93},{"t":16.8,"v":102},{"t":16.8,"v":112},{"t":16.8,"v":123},{"t":16.8,"v":135},{"t":16.8,"v":148},{"t":16.8,"v":163},{"t":16.8,"v":179},{"t":16.8,"v":196},{"t":16.8,"v":215},{"t":16.8,"v":236},{"t":16.8,"v":259},{"t":16.8,"v":285},{"t":16.8,"v":313},
{"t":14.6,"v":9},{"t":14.6,"v":9.6},{"t":14.6,"v":10.2},{"t":14.6,"v":12.3},{"t":14.6,"v":13.5},{"t":14.6,"v":15},{"t":13,"v":930},{"t":13,"v":690},{"t":13,"v":590},{"t":13,"v":400},{"t":13,"v":440},{"t":15,"v":955},{"t":15,"v":620},{"t":15,"v":480},{"t":15,"v":18},{"t":15,"v":16.5},{"t":16.5,"v":700},{"t":16.5,"v":540},{"t":16.5,"v":17},{"t":16.5,"v":12.5},{"t":12,"v":19},{"t":12,"v":14},
{"t":20,"v":19.1},{"t":20,"v":21.6},{"t":20,"v":26},{"t":20,"v":29},{"t":20,"v":30.5},{"t":20,"v":33.5},{"t":20,"v":37},{"t":20,"v":40.5},{"t":20,"v":44.5},{"t":20,"v":49},{"t":20,"v":54},{"t":20,"v":59},{"t":20,"v":65},{"t":20,"v":71},{"t":20,"v":78},{"t":20,"v":86},{"t":20,"v":94},{"t":20,"v":103},{"t":20,"v":113},{"t":20,"v":124},{"t":20,"v":136},{"t":20,"v":150},{"t":20,"v":164},{"t":20,"v":180},{"t":20,"v":198},{"t":20,"v":217},{"t":20,"v":238},{"t":20,"v":262},{"t":20,"v":288},{"t":20,"v":316},{"t":20,"v":347},{"t":20,"v":377},{"t":20,"v":665},
{"t":24,"v":15.5},{"t":24,"v":28},{"t":24,"v":30.5},{"t":24,"v":33},{"t":24,"v":36.5},{"t":24,"v":40},{"t":24,"v":44},{"t":24,"v":48},{"t":24,"v":53},{"t":24,"v":58},{"t":24,"v":64},{"t":24,"v":70},{"t":24,"v":77},{"t":24,"v":85},{"t":24,"v":93},{"t":24,"v":102},{"t":24,"v":112},{"t":24,"v":123},{"t":24,"v":135},{"t":24,"v":148},{"t":24,"v":163},{"t":24,"v":179},{"t":24,"v":196},{"t":24,"v":215},{"t":24,"v":236},{"t":24,"v":259},{"t":24,"v":291},{"t":24,"v":393},{"t":24,"v":430},{"t":24,"v":470},
{"t":28,"v":22.6},{"t":28,"v":25},{"t":28,"v":28},{"t":28,"v":30.5},{"t":28,"v":33.5},{"t":28,"v":37},{"t":28,"v":40.5},{"t":28,"v":44.5},{"t":28,"v":49},{"t":28,"v":54},{"t":28,"v":59},{"t":28,"v":65},{"t":28,"v":71},{"t":28,"v":78},{"t":28,"v":86},{"t":28,"v":94},{"t":28,"v":103},{"t":28,"v":113},{"t":28,"v":124},{"t":28,"v":136},{"t":28,"v":150},{"t":28,"v":164},{"t":28,"v":180},{"t":28,"v":198},{"t":28,"v":217},{"t":28,"v":238},{"t":28,"v":262},{"t":28,"v":278},{"t":28,"v":393},{"t":28,"v":437},
{"t":32,"v":19.4},{"t":32,"v":22.6},{"t":32,"v":28},{"t":32,"v":30.5},{"t":32,"v":33.5},{"t":32,"v":37},{"t":32,"v":40.5},{"t":32,"v":44.5},{"t":32,"v":49},{"t":32,"v":54},{"t":32,"v":59},{"t":32,"v":65},{"t":32,"v":71},{"t":32,"v":78},{"t":32,"v":86},{"t":32,"v":94},{"t":32,"v":103},{"t":32,"v":113},{"t":32,"v":124},{"t":32,"v":136},{"t":32,"v":150},{"t":32,"v":164},{"t":32,"v":180},{"t":32,"v":198},{"t":32,"v":217},{"t":32,"v":238},{"t":32,"v":262},{"t":32,"v":288},{"t":32,"v":316},{"t":32,"v":333},{"t":32,"v":400},{"t":32,"v":456},{"t":32,"v":618},
{"t":36,"v":19.4},{"t":36,"v":22.2},{"t":36,"v":30.5},{"t":36,"v":33.5},{"t":36,"v":37},{"t":36,"v":40.5},{"t":36,"v":44.5},{"t":36,"v":49},{"t":36,"v":54},{"t":36,"v":59},{"t":36,"v":65},{"t":36,"v":71},{"t":36,"v":78},{"t":36,"v":86},{"t":36,"v":94},{"t":36,"v":103},{"t":36,"v":113},{"t":36,"v":124},{"t":36,"v":136},{"t":36,"v":150},{"t":36,"v":164},{"t":36,"v":180},{"t":36,"v":198},{"t":36,"v":217},{"t":36,"v":238},{"t":36,"v":262},{"t":36,"v":288},{"t":36,"v":316},{"t":36,"v":345},{"t":36,"v":417},{"t":36,"v":450},{"t":36,"v":485},{"t":36,"v":1000},
{"t":40,"v":20},{"t":40,"v":22.6},{"t":40,"v":33},{"t":40,"v":36.5},{"t":40,"v":40},{"t":40,"v":44},{"t":40,"v":48},{"t":40,"v":53},{"t":40,"v":58},{"t":40,"v":64},{"t":40,"v":70},{"t":40,"v":77},{"t":40,"v":85},{"t":40,"v":93},{"t":40,"v":102},{"t":40,"v":112},{"t":40,"v":123},{"t":40,"v":135},{"t":40,"v":148},{"t":40,"v":163},{"t":40,"v":179},{"t":40,"v":196},{"t":40,"v":215},{"t":40,"v":236},{"t":40,"v":250},{"t":40,"v":266},{"t":40,"v":320},{"t":40,"v":400},{"t":40,"v":470},{"t":40,"v":618},
{"t":44,"v":12.4},{"t":44,"v":13.7},{"t":44,"v":18.6},{"t":44,"v":20.5},{"t":44,"v":22.5},{"t":44,"v":25},{"t":44,"v":27.5},{"t":44,"v":30},{"t":44,"v":33},{"t":44,"v":36.5},{"t":44,"v":40},{"t":44,"v":44},{"t":44,"v":48},{"t":44,"v":53},{"t":44,"v":58},{"t":44,"v":64},{"t":44,"v":70},{"t":44,"v":77},{"t":44,"v":85},{"t":44,"v":93},{"t":44,"v":102},{"t":44,"v":112},{"t":44,"v":123},{"t":44,"v":135},{"t":44,"v":145},{"t":44,"v":182},{"t":44,"v":205},{"t":44,"v":230},{"t":44,"v":258},{"t":44,"v":405},
{"t":52,"v":13.4},{"t":52,"v":21.6},{"t":52,"v":23.8},{"t":52,"v":26},{"t":52,"v":28.7},{"t":52,"v":31.5},{"t":52,"v":34.7},{"t":52,"v":38},{"t":52,"v":42},{"t":52,"v":46},{"t":52,"v":51},{"t":52,"v":56},{"t":52,"v":61},{"t":52,"v":67},{"t":52,"v":74},{"t":52,"v":81},{"t":52,"v":89},{"t":52,"v":98},{"t":52,"v":108},{"t":52,"v":118},{"t":52,"v":130},{"t":52,"v":143},{"t":52,"v":157},{"t":52,"v":173},{"t":52,"v":190},{"t":52,"v":209},{"t":52,"v":230},{"t":52,"v":253},{"t":52,"v":278},{"t":52,"v":305},{"t":52,"v":324},{"t":52,"v":358},{"t":52,"v":388},
{"t":64,"v":10.5},{"t":64,"v":13.4},{"t":64,"v":26.2},{"t":64,"v":28.8},{"t":64,"v":31.7},{"t":64,"v":35},{"t":64,"v":38.5},{"t":64,"v":42},{"t":64,"v":46},{"t":64,"v":51},{"t":64,"v":56},{"t":64,"v":62},{"t":64,"v":68},{"t":64,"v":75},{"t":64,"v":82},{"t":64,"v":90},{"t":64,"v":99},{"t":64,"v":109},{"t":64,"v":120},{"t":64,"v":132},{"t":64,"v":145},{"t":64,"v":160},{"t":64,"v":176},{"t":64,"v":193},{"t":64,"v":212},{"t":64,"v":233},{"t":64,"v":256},{"t":64,"v":279},
{"t":76,"v":17.5},{"t":76,"v":21},{"t":76,"v":31.4},{"t":76,"v":34.5},{"t":76,"v":38},{"t":76,"v":42},{"t":76,"v":46},{"t":76,"v":51},{"t":76,"v":56},{"t":76,"v":62},{"t":76,"v":68},{"t":76,"v":75},{"t":76,"v":82},{"t":76,"v":90},{"t":76,"v":99},{"t":76,"v":109},{"t":76,"v":120},{"t":76,"v":132},{"t":76,"v":145},{"t":76,"v":160},{"t":76,"v":176},{"t":76,"v":194},{"t":76,"v":215},{"t":76,"v":258}]
},
"hconcat":[
{"width":322,"height":356,"title":{"text":"Eltrombopag Monotherapy"},
"layer":[
{"layer":[
{"data":{"name":"b1"},"mark":{"type":"rect","clip":true},"encoding":{
"x":{"field":"t0","type":"quantitative","scale":{"domain":[0,10.5],"nice":false,"zero":false},"axis":{"title":"Time (week)","values":[2,4,6,8,10],"tickSize":10,"labelPadding":3,"titlePadding":16}},
"x2":{"field":"t1"},
"y":{"field":"lo","type":"quantitative","scale":{"type":"log","domain":[7.2,935],"nice":false},"axis":{"title":"Platelet Count (Gi/L)","format":"d","values":[8,9,10,20,30,40,50,60,70,80,90,100,200,300,400,500,600,700,800,900],"labelExpr":"datum.value==10||datum.value==100||datum.value==1000?datum.label:''","tickSize":{"condition":{"test":"datum.value==10||datum.value==100||datum.value==1000","value":12},"value":7},"labelPadding":8,"titlePadding":14}},
"y2":{"field":"hi"},
"color":{"field":"k","type":"nominal","scale":{"domain":["hi","lo","med"],"range":["#abaff0","#abaff0","#f7bbb5"]},"legend":null}}},
{"data":{"name":"p1"},"mark":{"type":"point","shape":"circle","filled":true,"fill":"#1414d8","fillOpacity":0.75,"stroke":"#1414d8","strokeOpacity":1,"size":50,"strokeWidth":2,"opacity":1,"clip":true},"encoding":{"x":{"field":"t","type":"quantitative"},"y":{"field":"v","type":"quantitative"}}},
{"data":{"name":"l1"},"mark":{"type":"line","color":"#e3261f","strokeWidth":2.6,"clip":true},"encoding":{"x":{"field":"t","type":"quantitative"},"y":{"field":"v","type":"quantitative"},"strokeDash":{"field":"q","type":"nominal","scale":{"domain":["med","p5","p95"],"range":[[1,0],[12,8],[12,8]]},"legend":null}}}
]},
{"data":{"name":"l1"},"mark":{"type":"point","opacity":0},"encoding":{
"x":{"field":"t","type":"quantitative","scale":{"domain":[0,10.5],"nice":false,"zero":false},"axis":{"orient":"top","title":null,"labels":false,"values":[2,4,6,8,10],"tickSize":10}},
"y":{"field":"v","type":"quantitative","scale":{"type":"log","domain":[7.2,935],"nice":false},"axis":{"orient":"right","title":null,"labels":false,"values":[8,9,10,20,30,40,50,60,70,80,90,100,200,300,400,500,600,700,800,900],"tickSize":{"condition":{"test":"datum.value==10||datum.value==100||datum.value==1000","value":12},"value":7},"minExtent":17}}}}
],
"resolve":{"scale":{"x":"independent","y":"independent"}}},
{"width":315,"height":356,"title":{"text":"Eltrombopag + pegIFN alfa-2a"},
"layer":[
{"layer":[
{"data":{"name":"b2"},"mark":{"type":"rect","clip":true},"encoding":{
"x":{"field":"t0","type":"quantitative","scale":{"domain":[-5.2,81.6],"nice":false,"zero":false},"axis":{"title":"Time (week)","values":[0,20,40,60,80],"labelExpr":"datum.value==80?'':datum.label","tickSize":10,"labelPadding":3,"titlePadding":16}},
"x2":{"field":"t1"},
"y":{"field":"lo","type":"quantitative","scale":{"type":"log","domain":[4.8,1470],"nice":false},"axis":{"title":"Platelet Count (Gi/L)","format":"d","values":[5,6,7,8,9,10,20,30,40,50,60,70,80,90,100,200,300,400,500,600,700,800,900,1000],"labelExpr":"datum.value==10||datum.value==100||datum.value==1000?datum.label:''","tickSize":{"condition":{"test":"datum.value==10||datum.value==100||datum.value==1000","value":12},"value":7},"labelPadding":8,"titlePadding":16}},
"y2":{"field":"hi"},
"color":{"field":"k","type":"nominal","scale":{"domain":["hi","lo","med"],"range":["#abaff0","#abaff0","#f7bbb5"]},"legend":null}}},
{"data":{"name":"p2"},"mark":{"type":"point","shape":"circle","filled":true,"fill":"#1414d8","fillOpacity":0.75,"stroke":"#1414d8","strokeOpacity":1,"size":50,"strokeWidth":2,"opacity":1,"clip":true},"encoding":{"x":{"field":"t","type":"quantitative"},"y":{"field":"v","type":"quantitative"}}},
{"data":{"name":"l2"},"mark":{"type":"line","color":"#e3261f","strokeWidth":2.6,"clip":true},"encoding":{"x":{"field":"t","type":"quantitative"},"y":{"field":"v","type":"quantitative"},"strokeDash":{"field":"q","type":"nominal","scale":{"domain":["med","p5","p95"],"range":[[1,0],[12,8],[12,8]]},"legend":null}}}
]},
{"data":{"name":"l2"},"mark":{"type":"point","opacity":0},"encoding":{
"x":{"field":"t","type":"quantitative","scale":{"domain":[-5.2,81.6],"nice":false,"zero":false},"axis":{"orient":"top","title":null,"labels":false,"values":[0,20,40,60,80],"tickSize":10}},
"y":{"field":"v","type":"quantitative","scale":{"type":"log","domain":[4.8,1470],"nice":false},"axis":{"orient":"right","title":null,"labels":false,"values":[5,6,7,8,9,10,20,30,40,50,60,70,80,90,100,200,300,400,500,600,700,800,900,1000],"tickSize":{"condition":{"test":"datum.value==10||datum.value==100||datum.value==1000","value":12},"value":7},"minExtent":11}}}}
],
"resolve":{"scale":{"x":"independent","y":"independent"}}},
{"width":312,"height":356,"title":{"text":"Eltrombopag + pegIFN alfa-2b"},
"layer":[
{"layer":[
{"data":{"name":"b3"},"mark":{"type":"rect","clip":true},"encoding":{
"x":{"field":"t0","type":"quantitative","scale":{"domain":[-5.3,81.4],"nice":false,"zero":false},"axis":{"title":"Time (week)","values":[0,20,40,60,80],"labelExpr":"datum.value==80?'':datum.label","tickSize":10,"labelPadding":3,"titlePadding":16}},
"x2":{"field":"t1"},
"y":{"field":"lo","type":"quantitative","scale":{"type":"log","domain":[6.67,1413],"nice":false},"axis":{"title":"Platelet Count (Gi/L)","format":"d","values":[7,8,9,10,20,30,40,50,60,70,80,90,100,200,300,400,500,600,700,800,900,1000],"labelExpr":"datum.value==10||datum.value==100||datum.value==1000?datum.label:''","tickSize":{"condition":{"test":"datum.value==10||datum.value==100||datum.value==1000","value":12},"value":7},"labelPadding":8,"titlePadding":11}},
"y2":{"field":"hi"},
"color":{"field":"k","type":"nominal","scale":{"domain":["hi","lo","med"],"range":["#abaff0","#abaff0","#f7bbb5"]},"legend":null}}},
{"data":{"name":"p3"},"mark":{"type":"point","shape":"circle","filled":true,"fill":"#1414d8","fillOpacity":0.75,"stroke":"#1414d8","strokeOpacity":1,"size":50,"strokeWidth":2,"opacity":1,"clip":true},"encoding":{"x":{"field":"t","type":"quantitative"},"y":{"field":"v","type":"quantitative"}}},
{"data":{"name":"l3"},"mark":{"type":"line","color":"#e3261f","strokeWidth":2.6,"clip":true},"encoding":{"x":{"field":"t","type":"quantitative"},"y":{"field":"v","type":"quantitative"},"strokeDash":{"field":"q","type":"nominal","scale":{"domain":["med","p5","p95"],"range":[[1,0],[12,8],[12,8]]},"legend":null}}}
]},
{"data":{"name":"l3"},"mark":{"type":"point","opacity":0},"encoding":{
"x":{"field":"t","type":"quantitative","scale":{"domain":[-5.3,81.4],"nice":false,"zero":false},"axis":{"orient":"top","title":null,"labels":false,"values":[0,20,40,60,80],"tickSize":10}},
"y":{"field":"v","type":"quantitative","scale":{"type":"log","domain":[6.67,1413],"nice":false},"axis":{"orient":"right","title":null,"labels":false,"values":[7,8,9,10,20,30,40,50,60,70,80,90,100,200,300,400,500,600,700,800,900,1000],"tickSize":{"condition":{"test":"datum.value==10||datum.value==100||datum.value==1000","value":12},"value":7},"minExtent":11}}}}
],
"resolve":{"scale":{"x":"independent","y":"independent"}}}
]
}
